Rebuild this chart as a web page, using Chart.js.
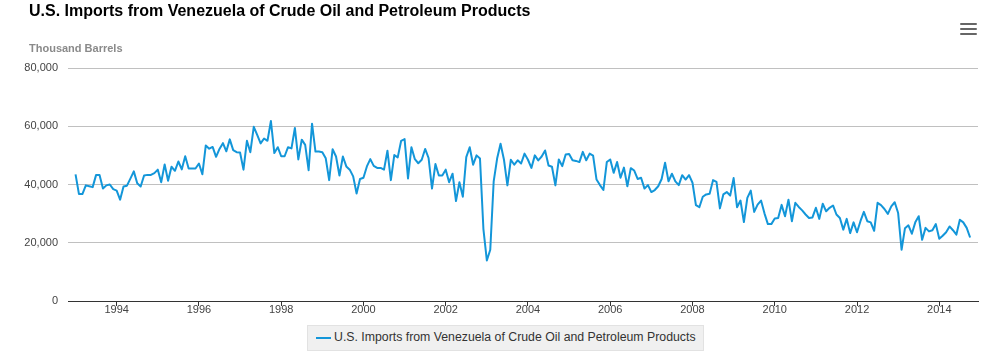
<!DOCTYPE html>
<html>
<head>
<meta charset="utf-8">
<script src="https://cdn.jsdelivr.net/npm/chart.js@4.4.1/dist/chart.umd.min.js"></script>
<style>
  html, body { margin: 0; padding: 0; background: #ffffff; }
  body { width: 1003px; height: 355px; position: relative; overflow: hidden; font-family: "Liberation Sans", Arial, sans-serif; }
  #c { position: absolute; left: 0; top: 0; }
  .title { position: absolute; left: 29px; top: 1px; font-size: 16px; line-height: 20px; font-weight: bold; color: #000; white-space: nowrap; }
  .ytitle { position: absolute; left: 29px; top: 41px; font-size: 11px; line-height: 14px; font-weight: bold; color: #8a8a8a; white-space: nowrap; }
  .menu div { position: absolute; left: 960px; width: 17px; height: 2px; background: #666; border-radius: 1px; }
  .legend { position: absolute; left: 307px; top: 325px; width: 397px; height: 26px; box-sizing: border-box; background: #f0f0f0; border: 1px solid #e2e2e2; }
  .legend .sym { position: absolute; left: 8px; top: 11px; width: 15px; height: 2px; background: #1396d9; }
  .legend .txt { position: absolute; left: 26px; top: 4px; font-size: 12.3px; line-height: 14px; color: #333; white-space: nowrap; }
</style>
</head>
<body>
<canvas id="c" width="1003" height="355"></canvas>
<div class="title">U.S. Imports from Venezuela of Crude Oil and Petroleum Products</div>
<div class="ytitle">Thousand Barrels</div>
<div class="menu"><div style="top:23px"></div><div style="top:28px"></div><div style="top:33px"></div></div>
<div class="legend"><div class="sym"></div><div class="txt">U.S. Imports from Venezuela of Crude Oil and Petroleum Products</div></div>
<script>
// Monthly imports (values below are in thousands of "thousand barrels"; scaled by 1000)
const startYear = 1993;
const v1993 = [43.5, 36.7, 36.7, 39.7, 39.4, 39.1, 43.3, 43.3, 38.6, 39.7, 40.0, 38.4];
const v1994 = [37.9, 34.8, 39.3, 39.6, 42.0, 44.5, 40.4, 39.3, 43.1, 43.3, 43.3, 43.9];
const v1995 = [45.1, 40.8, 46.9, 41.3, 46.1, 44.7, 47.9, 45.2, 49.7, 45.5, 45.5, 45.5];
const v1996 = [47.2, 43.5, 53.4, 52.3, 52.9, 49.5, 52.2, 54.2, 51.4, 55.5, 51.8, 51.1];
const v1997 = [51.0, 45.1, 55.0, 51.1, 59.8, 57.0, 54.1, 55.8, 55.0, 61.8, 50.8, 52.8];
const v1998 = [49.7, 49.7, 52.8, 52.4, 59.4, 48.6, 55.4, 53.6, 44.9, 60.9, 51.3, 51.3];
const v1999 = [51.1, 49.0, 41.5, 52.1, 49.6, 43.1, 49.6, 46.2, 45.1, 42.8, 36.9, 41.9];
const v2000 = [42.3, 46.2, 48.7, 46.4, 45.7, 45.7, 45.1, 51.6, 41.5, 50.1, 49.3, 55.0];
const v2001 = [55.6, 42.1, 52.8, 48.7, 47.3, 48.5, 52.2, 49.1, 38.6, 47.0, 43.1, 43.1];
const v2002 = [45.1, 40.8, 43.7, 34.3, 40.8, 35.8, 49.4, 52.8, 46.8, 50.0, 48.9, 24.7];
const v2003 = [13.9, 17.6, 41.1, 48.9, 54.0, 48.5, 39.7, 48.5, 46.8, 48.3, 47.2, 50.6];
const v2004 = [48.5, 45.7, 50.0, 48.3, 49.6, 51.7, 46.5, 46.1, 39.7, 48.6, 46.3, 50.3];
const v2005 = [50.5, 48.3, 48.1, 47.7, 51.2, 48.3, 50.6, 49.9, 41.7, 39.8, 38.1, 47.7];
const v2006 = [48.6, 44.0, 47.7, 42.3, 45.8, 39.4, 45.6, 44.8, 41.9, 42.3, 38.6, 39.8];
const v2007 = [37.4, 38.1, 39.4, 41.9, 47.5, 41.1, 43.7, 41.1, 39.8, 43.2, 41.7, 43.2];
const v2008 = [40.6, 32.9, 32.2, 35.8, 36.6, 36.8, 41.5, 40.9, 31.8, 36.6, 37.4, 36.2];
const v2009 = [42.2, 32.2, 34.5, 27.1, 35.4, 37.9, 30.6, 33.1, 34.5, 30.1, 26.4, 26.4];
const v2010 = [28.3, 28.5, 33.0, 29.1, 34.8, 27.4, 33.7, 32.3, 31.1, 29.7, 28.5, 28.7];
const v2011 = [32.0, 28.2, 33.4, 30.8, 32.0, 32.8, 29.7, 28.5, 24.5, 28.2, 23.3, 27.0];
const v2012 = [23.6, 27.4, 30.6, 27.4, 27.0, 24.1, 33.7, 32.9, 31.6, 29.9, 32.5, 33.9];
const v2013 = [30.2, 17.6, 25.0, 26.0, 23.1, 27.0, 29.1, 21.0, 25.1, 23.9, 24.3, 26.4];
const v2014 = [21.4, 22.4, 23.6, 25.6, 24.3, 22.8, 27.9, 27.0, 25.1, 21.8];

const tickYears = [1994, 1996, 1998, 2000, 2002, 2004, 2006, 2008, 2010, 2012, 2014];
const yTicks = [0, 20000, 40000, 60000, 80000];
const seriesName = "U.S. Imports from Venezuela of Crude Oil and Petroleum Products";

const allValues = [].concat(v1993, v1994, v1995, v1996, v1997, v1998, v1999, v2000, v2001, v2002,
  v2003, v2004, v2005, v2006, v2007, v2008, v2009, v2010, v2011, v2012, v2013, v2014);
const points = allValues.map((v, i) => ({ x: startYear + i / 12, y: v * 1000 }));

const FONT = '"Liberation Sans", Arial, sans-serif';

new Chart(document.getElementById('c').getContext('2d'), {
  type: 'line',
  data: {
    datasets: [{
      label: seriesName,
      data: points,
      borderColor: '#1396d9',
      backgroundColor: '#1396d9',
      borderWidth: 2,
      pointRadius: 0,
      tension: 0,
      fill: false,
      borderJoinStyle: 'round'
    }]
  },
  options: {
    responsive: false,
    animation: false,
    devicePixelRatio: 1,
    layout: { padding: { left: 0, right: 25, top: 68, bottom: 0 } },
    plugins: { legend: { display: false }, title: { display: false }, tooltip: { enabled: false } },
    scales: {
      x: {
        type: 'linear',
        min: startYear - 2.2 / 12,
        max: startYear + 263.3 / 12,
        afterBuildTicks: (axis) => { axis.ticks = tickYears.map(v => ({ value: v })); },
        afterFit: (axis) => { axis.height = 54; },
        ticks: {
          callback: (v) => String(v),
          autoSkip: false, maxRotation: 0, minRotation: 0,
          padding: -3,
          color: '#444',
          font: { family: FONT, size: 11 }
        },
        grid: { drawOnChartArea: false, drawTicks: true, tickLength: 5, color: '#333', lineWidth: 1 },
        border: { display: true, color: '#333', width: 1 }
      },
      y: {
        min: 0, max: 80000,
        afterBuildTicks: (axis) => { axis.ticks = yTicks.map(v => ({ value: v })); },
        afterFit: (axis) => { axis.width = 68; },
        ticks: {
          callback: (v) => v.toLocaleString('en-US'),
          padding: 10,
          color: '#444',
          font: { family: FONT, size: 11 }
        },
        grid: { color: '#c0c0c0', drawTicks: false, lineWidth: 1 },
        border: { display: false }
      }
    }
  }
});
</script>
</body>
</html>
